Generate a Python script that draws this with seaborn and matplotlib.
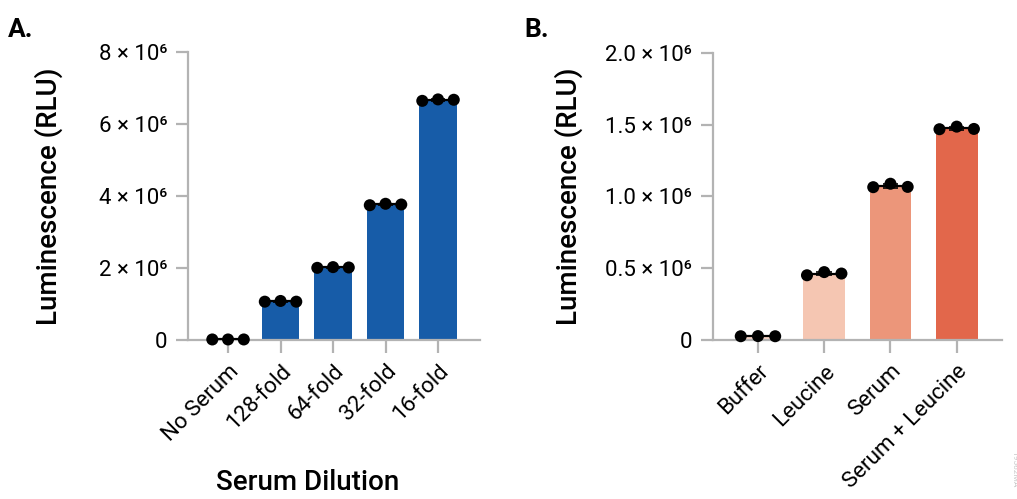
import numpy as np
import pandas as pd
import matplotlib
matplotlib.use('Agg')
import matplotlib.pyplot as plt
import seaborn as sns

# ----------------------------
# Data (three replicates per group)
# ----------------------------
dilution_labels = ['No Serum', '128-fold', '64-fold', '32-fold', '16-fold']
dilution_rep1 = [0.01e6, 1.06e6, 2.00e6, 3.74e6, 6.64e6]
dilution_rep2 = [0.01e6, 1.08e6, 2.02e6, 3.78e6, 6.68e6]
dilution_rep3 = [0.01e6, 1.06e6, 2.01e6, 3.76e6, 6.67e6]

treat_labels = ['Buffer', 'Leucine', 'Serum', 'Serum + Leucine']
treat_rep1 = [0.025e6, 0.450e6, 1.064e6, 1.468e6]
treat_rep2 = [0.026e6, 0.472e6, 1.088e6, 1.486e6]
treat_rep3 = [0.025e6, 0.462e6, 1.066e6, 1.470e6]

blue = '#175ca8'
reds = ['#f7d3c4', '#f5c6b2', '#ec967a', '#e2674b']
spine_col = '#b3b3b3'

sns.set_theme(style='white')
plt.rcParams['font.family'] = ['Roboto', 'DejaVu Sans']
plt.rcParams['axes.edgecolor'] = spine_col
plt.rcParams['axes.linewidth'] = 1.6
plt.rcParams['text.color'] = 'black'
plt.rcParams['axes.labelcolor'] = 'black'


def long_table(labels, reps):
    rows = []
    for r, vals in enumerate(reps):
        for i, (lab, v) in enumerate(zip(labels, vals)):
            rows.append({'group': lab, 'code': i, 'rep': r, 'value': v})
    return pd.DataFrame(rows)


def draw_panel(ax, df, labels, palette, offset, bar_width, ylim, yticks, yticklabels, ylabelpad):
    sns.barplot(data=df, x='group', y='value', order=labels, hue='group', hue_order=labels,
                palette=palette, errorbar=None, width=bar_width, legend=False, ax=ax,
                saturation=1, edgecolor='none')
    # mean line and SD caps
    stats = df.groupby('code')['value'].agg(['mean', 'std'])
    for code, row in stats.iterrows():
        ax.hlines(row['mean'], code - offset, code + offset, color='black', lw=1.6, zorder=3)
        ax.hlines([row['mean'] - row['std'], row['mean'] + row['std']],
                  code - offset * 0.45, code + offset * 0.45, color='black', lw=1.2, zorder=3)
    # replicate points spread across the bar
    df = df.copy()
    df['xpos'] = df['code'] + (df['rep'] - 1) * offset
    sns.scatterplot(data=df, x='xpos', y='value', color='black', s=75, edgecolor='none',
                    ax=ax, zorder=4, clip_on=False, legend=False)
    ax.set_ylim(*ylim)
    ax.set_yticks(yticks)
    ax.set_yticklabels(yticklabels, fontsize=16)
    ax.set_xticks(range(len(labels)))
    ax.set_xticklabels(labels, rotation=45, ha='right', rotation_mode='anchor', fontsize=16)
    ax.set_ylabel('Luminescence (RLU)', fontsize=20, fontweight='medium', labelpad=ylabelpad)
    ax.set_xlabel('')
    sns.despine(ax=ax)
    ax.tick_params(axis='both', which='both', length=9, width=1.6, color=spine_col,
                   left=True, bottom=True, pad=6, labelcolor='black')


fig = plt.figure(figsize=(10.17, 4.99), dpi=100)
axA = fig.add_axes([0.185, 0.319, 0.287, 0.577])
axB = fig.add_axes([0.701, 0.319, 0.284, 0.575])

dfA = long_table(dilution_labels, [dilution_rep1, dilution_rep2, dilution_rep3])
draw_panel(axA, dfA, dilution_labels, [blue] * 5, 0.30, 0.72, (0, 8e6),
           [0, 2e6, 4e6, 6e6, 8e6],
           ['0', '2 × 10⁶', '4 × 10⁶', '6 × 10⁶', '8 × 10⁶'], 26)
axA.set_xlim(-0.76, 4.8)
axA.set_xlabel('Serum Dilution', fontsize=20, fontweight='medium')
axA.xaxis.set_label_coords(0.41, -0.45)

dfB = long_table(treat_labels, [treat_rep1, treat_rep2, treat_rep3])
draw_panel(axB, dfB, treat_labels, reds, 0.26, 0.63, (0, 2e6),
           [0, 0.5e6, 1.0e6, 1.5e6, 2.0e6],
           ['0', '0.5 × 10⁶', '1.0 × 10⁶', '1.5 × 10⁶', '2.0 × 10⁶'], 16)
axB.set_xlim(-0.68, 3.68)

fig.text(0.008, 0.94, 'A.', fontsize=19, fontweight='semibold', va='center')
fig.text(0.516, 0.94, 'B.', fontsize=19, fontweight='semibold', va='center')
fig.text(0.997, 0.06, '19562MA', fontsize=6, color='#c8c8c8', rotation=270, ha='center', va='center')

fig.savefig('out.png', dpi=100)
